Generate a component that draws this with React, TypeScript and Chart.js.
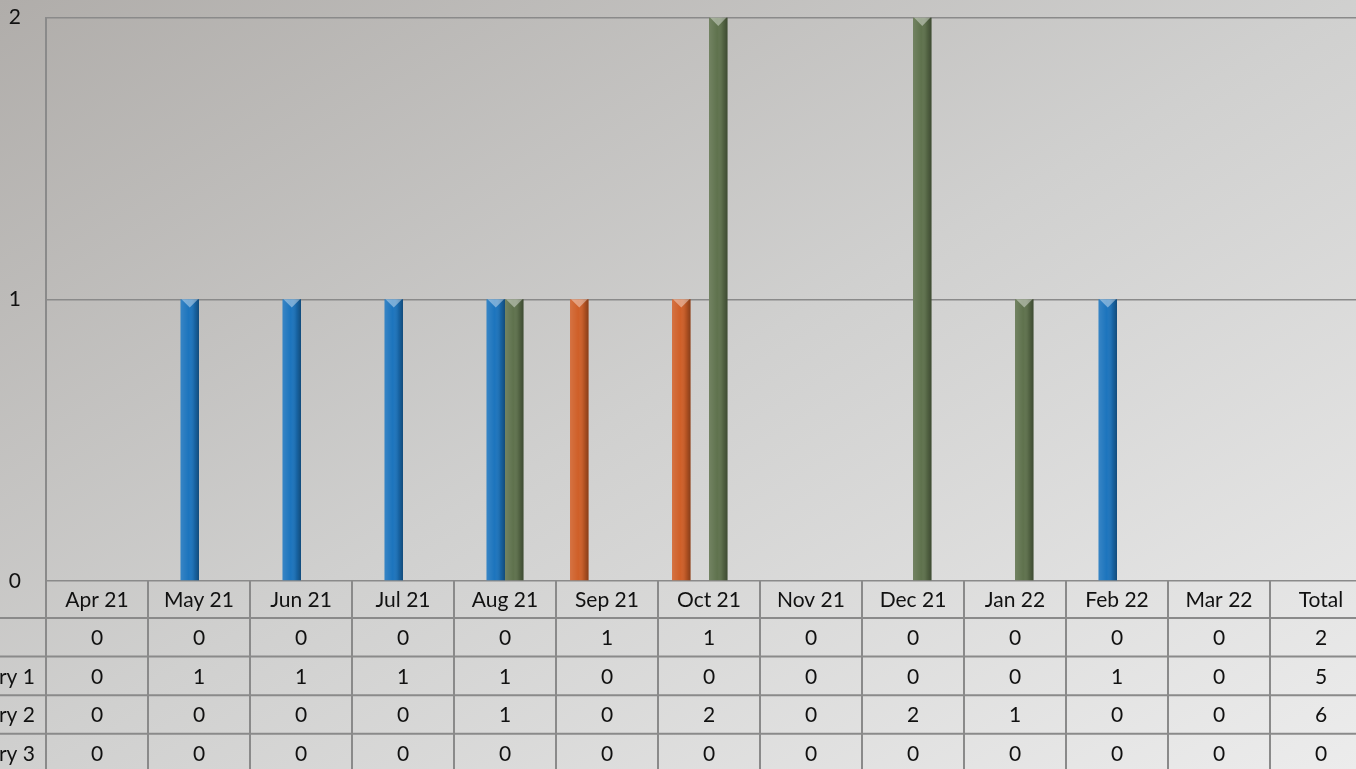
import React, { useEffect, useRef } from "react";
import { Chart, registerables } from "chart.js";

Chart.register(...registerables);

const categories = ["Apr 21", "May 21", "Jun 21", "Jul 21", "Aug 21", "Sep 21", "Oct 21", "Nov 21", "Dec 21", "Jan 22", "Feb 22", "Mar 22", "Total"];
const seriesNames = ["", "Category 1", "Category 2", "Category 3"];
const seriesBlank = [0, 0, 0, 0, 0, 1, 1, 0, 0, 0, 0, 0];
const seriesCat1 = [0, 1, 1, 1, 1, 0, 0, 0, 0, 0, 1, 0];
const seriesCat2 = [0, 0, 0, 0, 1, 0, 2, 0, 2, 1, 0, 0];
const seriesCat3 = [0, 0, 0, 0, 0, 0, 0, 0, 0, 0, 0, 0];
const totals = [2, 5, 6, 0];
const seriesColors = ["#cf5f28", "#1c74bd", "#5f724d", "#8a8a8a"];
const yTicks = [0, 1, 2];

const FONT = "Lato, 'Open Sans', sans-serif";
const LINE = "#8a8a8a";

const bevelPlugin = {
  id: "bevel",
  afterDatasetsDraw(chart: any) {
    const ctx = chart.ctx;
    chart.data.datasets.forEach((ds: any, di: number) => {
      const meta = chart.getDatasetMeta(di);
      meta.data.forEach((el: any) => {
        const { x, y, base, width } = el.getProps(["x", "y", "base", "width"], true);
        if (!isFinite(y) || Math.abs(base - y) < 1) return;
        const l = x - width / 2;
        const r = x + width / 2;
        ctx.save();
        const g = ctx.createLinearGradient(l, 0, r, 0);
        g.addColorStop(0, "rgba(255,255,255,0.12)");
        g.addColorStop(0.45, "rgba(255,255,255,0.0)");
        g.addColorStop(0.75, "rgba(0,0,0,0.12)");
        g.addColorStop(1, "rgba(0,0,0,0.35)");
        ctx.fillStyle = g;
        ctx.fillRect(l, y, width, base - y);
        ctx.beginPath();
        ctx.moveTo(l + 1, y);
        ctx.lineTo(r - 1, y);
        ctx.lineTo(x, y + width * 0.45);
        ctx.closePath();
        ctx.fillStyle = "rgba(255,255,255,0.4)";
        ctx.fill();
        ctx.restore();
      });
    });
  },
};

const tablePlugin = {
  id: "dataTable",
  afterDraw(chart: any) {
    const ctx = chart.ctx;
    const xs = chart.scales.x;
    const area = chart.chartArea;
    const n = categories.length;
    const cw = (area.right - area.left) / n;
    const headerH = 37;
    const rowH = 38.6;
    const top = area.bottom;
    const rows = [seriesBlank, seriesCat1, seriesCat2, seriesCat3];
    ctx.save();
    ctx.strokeStyle = LINE;
    ctx.lineWidth = 2;
    for (let r = 0; r <= rows.length; r++) {
      const yy = top + headerH + r * rowH;
      ctx.beginPath();
      ctx.moveTo(0, yy);
      ctx.lineTo(chart.width, yy);
      ctx.stroke();
    }
    for (let i = 0; i <= n; i++) {
      const xx = xs.getPixelForValue(0) - cw / 2 + i * cw;
      ctx.beginPath();
      ctx.moveTo(xx, top);
      ctx.lineTo(xx, top + headerH + rows.length * rowH);
      ctx.stroke();
    }
    ctx.fillStyle = "#111";
    ctx.font = `21px ${FONT}`;
    ctx.textAlign = "center";
    ctx.textBaseline = "middle";
    categories.forEach((c, i) => {
      ctx.fillText(c, xs.getPixelForValue(i), top + headerH / 2 + 1);
    });
    rows.forEach((vals, r) => {
      const yy = top + headerH + r * rowH + rowH / 2 + 1;
      const all = [...vals, totals[r]];
      all.forEach((v, i) => {
        ctx.fillText(String(v), xs.getPixelForValue(i), yy);
      });
      ctx.textAlign = "right";
      ctx.fillText(seriesNames[r], area.left - 11, yy);
      ctx.textAlign = "center";
    });
    ctx.restore();
  },
};

export default function App() {
  const ref = useRef<HTMLCanvasElement>(null);
  useEffect(() => {
    const canvas = ref.current!;
    const chart = new Chart(canvas, {
      type: "bar",
      data: {
        labels: categories,
        datasets: [seriesBlank, seriesCat1, seriesCat2, seriesCat3].map((d, i) => ({
          label: seriesNames[i],
          data: [...d, null],
          backgroundColor: seriesColors[i],
          borderWidth: 0,
          categoryPercentage: 0.725,
          barPercentage: 1,
        })),
      },
      options: {
        responsive: false,
        animation: false,
        devicePixelRatio: 1,
        layout: { padding: { left: 0, right: 8, top: 16, bottom: 209 } },
        plugins: { legend: { display: false }, tooltip: { enabled: false } },
        scales: {
          x: { display: false },
          y: {
            min: 0,
            max: 2,
            afterFit(scale: any) {
              scale.width = 106;
            },
            afterBuildTicks(scale: any) {
              scale.ticks = yTicks.map((v) => ({ value: v }));
            },
            ticks: {
              padding: 25,
              color: "#111",
              font: { family: FONT, size: 21 },
            },
            grid: { color: LINE, lineWidth: 1.5, drawTicks: false },
            border: { display: true, color: LINE, width: 2 },
          },
        },
      },
      plugins: [bevelPlugin, tablePlugin],
    });
    return () => chart.destroy();
  }, []);
  return (
    <div
      style={{
        position: "absolute",
        left: 0,
        top: 0,
        width: 1356,
        height: 769,
        overflow: "hidden",
        background: "linear-gradient(to bottom right, #b0adaa 0%, #d0d0cf 50%, #ececec 100%)",
      }}
    >
      <canvas
        ref={ref}
        width={1440}
        height={810}
        style={{ position: "absolute", left: -60, top: -20, width: 1440, height: 810 }}
      />
    </div>
  );
}
